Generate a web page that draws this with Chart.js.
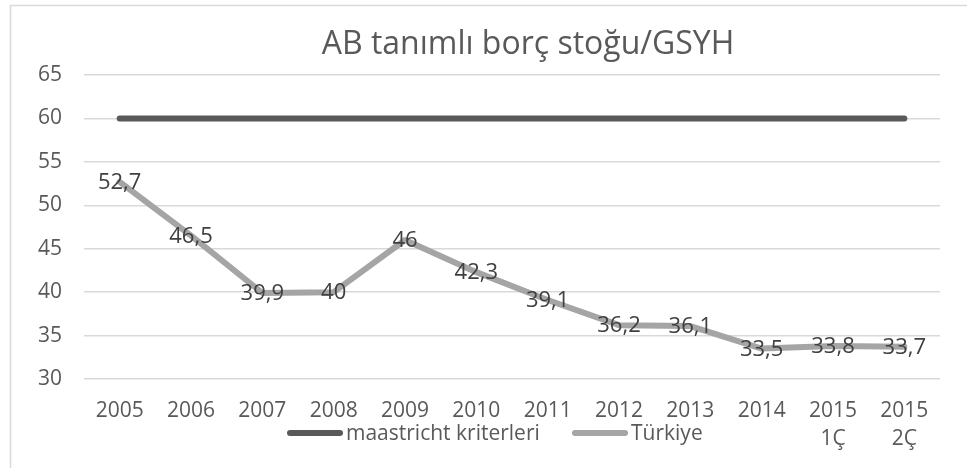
<!DOCTYPE html>
<html><head><meta charset="utf-8">
<script src="https://cdn.jsdelivr.net/npm/chart.js@4"></script>
<style>html,body{margin:0;padding:0;background:#fff;}#wrap{width:967px;height:468px;}</style>
</head><body><div id="wrap"><canvas id="c" width="967" height="468"></canvas></div>
<script>
const categories = [["2005"],["2006"],["2007"],["2008"],["2009"],["2010"],["2011"],["2012"],["2013"],["2014"],["2015","1Ç"],["2015","2Ç"]];
const maastricht = [60,60,60,60,60,60,60,60,60,60,60,60];
const turkiye = [52.7,46.5,39.9,40,46,42.3,39.1,36.2,36.1,33.5,33.8,33.7];
const turkiyeLabels = ["52,7","46,5","39,9","40","46","42,3","39,1","36,2","36,1","33,5","33,8","33,7"];
const yTicks = [30,35,40,45,50,55,60,65];
const titleText = "AB tanımlı borç stoğu/GSYH";
const seriesNames = ["maastricht kriterleri","Türkiye"];
const colors = ["#595959","#a5a5a5"];
const FONT = "'Open Sans', 'Noto Sans', sans-serif";

const framePlugin = {
  id:'frame',
  beforeDraw(chart){
    const ctx = chart.ctx;
    ctx.save();
    ctx.fillStyle = '#fff';
    ctx.fillRect(0,0,chart.width,chart.height);
    ctx.strokeStyle = '#d9d9d9';
    ctx.lineWidth = 1.5;
    ctx.strokeRect(10.5,5.5,1200,800);
    ctx.restore();
  },
  afterDraw(chart){
    const ctx = chart.ctx;
    ctx.save();
    // title
    ctx.fillStyle = '#595959';
    ctx.font = "32px " + FONT;
    ctx.textAlign = 'center';
    ctx.textBaseline = 'middle';
    ctx.fillText(titleText, 528, 45);
    // data labels
    const meta = chart.getDatasetMeta(1);
    ctx.fillStyle = '#404040';
    ctx.font = "22px " + FONT;
    meta.data.forEach((pt,i)=>{
      ctx.fillText(turkiyeLabels[i], pt.x, pt.y+1);
    });
    // legend
    ctx.font = "21px " + FONT;
    ctx.textAlign = 'left';
    const items = [{x:290, name:seriesNames[0], c:colors[0]},{x:575, name:seriesNames[1], c:colors[1]}];
    const ly = 434;
    items.forEach(it=>{
      ctx.strokeStyle = it.c;
      ctx.lineWidth = 6;
      ctx.lineCap = 'round';
      ctx.beginPath();
      ctx.moveTo(it.x, ly-1);
      ctx.lineTo(it.x+50, ly-1);
      ctx.stroke();
      ctx.fillStyle = '#595959';
      ctx.fillText(it.name, it.x+56, ly);
    });
    ctx.restore();
  }
};

new Chart(document.getElementById('c'), {
  type:'line',
  data:{
    labels: categories,
    datasets:[
      {label:seriesNames[0], data:maastricht, borderColor:colors[0], backgroundColor:colors[0], borderWidth:6, borderCapStyle:'round', pointRadius:0, tension:0},
      {label:seriesNames[1], data:turkiye, borderColor:colors[1], backgroundColor:colors[1], borderWidth:6, borderCapStyle:'round', borderJoinStyle:'round', pointRadius:0, tension:0}
    ]
  },
  options:{
    responsive:false,
    animation:false,
    devicePixelRatio:1,
    layout:{padding:{left:0,right:27,top:75,bottom:0}},
    plugins:{legend:{display:false}, title:{display:false}, tooltip:{enabled:false}},
    scales:{
      x:{
        offset:true,
        grid:{display:false, drawTicks:false},
        border:{display:false},
        ticks:{color:'#595959', font:{family:FONT, size:21, lineHeight:1.33}, padding:18, maxRotation:0, autoSkip:false},
        afterFit(s){ s.height = 89; }
      },
      y:{
        min:30, max:65,
        afterBuildTicks(s){ s.ticks = yTicks.map(v=>({value:v})); },
        grid:{color:'#d9d9d9', lineWidth:1.5, drawTicks:false},
        border:{display:false},
        ticks:{color:'#595959', font:{family:FONT, size:21}, padding:22},
        afterFit(s){ s.width = 84; }
      }
    }
  },
  plugins:[framePlugin]
});
</script></body></html>
